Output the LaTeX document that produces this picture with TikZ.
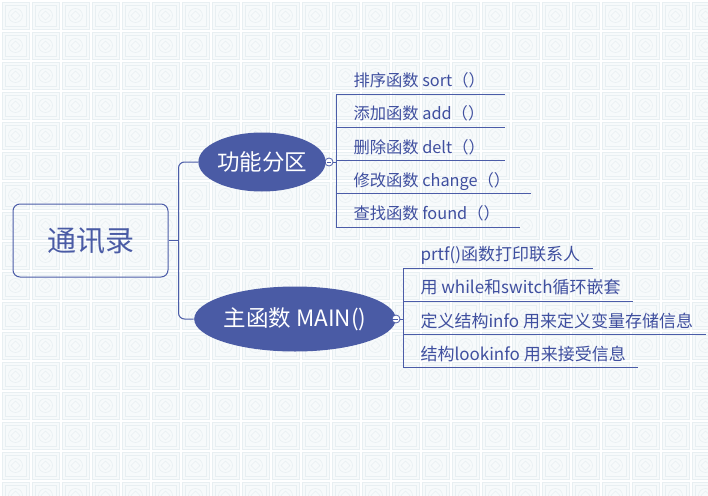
\documentclass[tikz,border=0pt]{standalone}
\usepackage{fontspec}
\setmainfont{Noto Sans CJK SC}
\usetikzlibrary{positioning,shapes.geometric}
\definecolor{mapblue}{HTML}{4A5BA5}
\definecolor{linkblue}{HTML}{4B5CA8}
\definecolor{textblue}{HTML}{3F4F9F}
\definecolor{tilefill}{HTML}{F7FAFB}
\definecolor{tileline}{HTML}{E8EFF2}
\begin{document}
\begin{tikzpicture}[x=1pt,y=-1pt,line width=1pt,
  link/.style={draw=linkblue,line width=1pt},
  tile/.style={draw=tileline,fill=tilefill,line width=.8pt},
  tilein/.style={draw=tileline,line width=.6pt},
  rootbox/.style={draw=linkblue,rectangle,rounded corners=7pt,minimum width=155pt,minimum height=73pt,
    inner sep=0pt,text=mapblue,font=\fontsize{29}{32}\selectfont},
  topic/.style={ellipse,fill=mapblue,text=white,inner sep=0pt,font=\fontsize{22.5}{24}\selectfont},
  fold/.style={circle,draw=linkblue,fill=white,line width=.8pt,minimum size=8pt,inner sep=0pt,
    path picture={\draw[linkblue,line width=.7pt] ([xshift=-2.2pt]path picture bounding box.center) -- ([xshift=2.2pt]path picture bounding box.center);}},
  leaf/.style={anchor=south west,inner xsep=0pt,inner ysep=0pt,text height=26.3pt,text depth=7pt,
    text=textblue,font=\fontsize{16.3}{18}\selectfont,
    execute at begin node={\hspace*{17pt}},execute at end node={\hspace*{#1}},
    append after command={(\tikzlastnode.south west) edge[link] (\tikzlastnode.south east)}},
  leaf/.default=12pt]
\useasboundingbox (0,0) rectangle (708,495);
\fill[white] (0,0) rectangle (708,495);
% background tiles
\foreach \i in {0,...,23}{\foreach \j in {0,...,16}{
  \draw[tile] (2+30*\i,2+30*\j) rectangle ++(27,27);
  \draw[tilein] (5+30*\i,5+30*\j) rectangle ++(21,21);
  \draw[tilein] (15.5+30*\i,15.5+30*\j) circle (7);
  \draw[tilein] (15.5+30*\i,11+30*\j) -- (20+30*\i,15.5+30*\j) -- (15.5+30*\i,20+30*\j) -- (11+30*\i,15.5+30*\j) -- cycle;
}}
% root and branches
\node[rootbox] (root) at (90.5,240.5) {通讯录};
\node[topic,minimum width=119pt,minimum height=59pt] (f1) at (262,162) {功能分区};
\node[topic,minimum width=186pt,minimum height=65pt] (f2) at (295,319) {主函数 MAIN()};
\node[fold] (c1) at (329,162) {};
\node[fold] (c2) at (396,319) {};
\coordinate (hub) at ([xshift=10pt]root.east);
\draw[link] (root.east) -- (hub);
\draw[link,rounded corners=6pt] (hub) |- (f1.west);
\draw[link,rounded corners=6pt] (hub) |- (f2.west);
\draw[link] (f1.east) -- (c1.west);
\draw[link] (f2.east) -- (c2.west);
% leaves
\foreach \t [count=\i] in {排序函数 sort（）,添加函数 add（）,删除函数 delt（）,修改函数 change（）,查找函数 found（）}
  {\node[leaf=20pt] (a\i) at (336,{94+33.25*(\i-1)}) {\t};}
\foreach \t [count=\i] in {prtf()函数打印联系人,用 while和switch循环嵌套,定义结构info 用来定义变量存储信息,结构lookinfo 用来接受信息}
  {\node[leaf,font=\fontsize{17}{19}\selectfont] (b\i) at (403,{268+33.3*(\i-1)}) {\t};}
\draw[link] (a1.south west) -- (a5.south west);
\draw[link] (b1.south west) -- (b4.south west);
\draw[link] (c1.east) -- (c1.east -| a1.south west);
\draw[link] (c2.east) -- (c2.east -| b1.south west);
\end{tikzpicture}
\end{document}
